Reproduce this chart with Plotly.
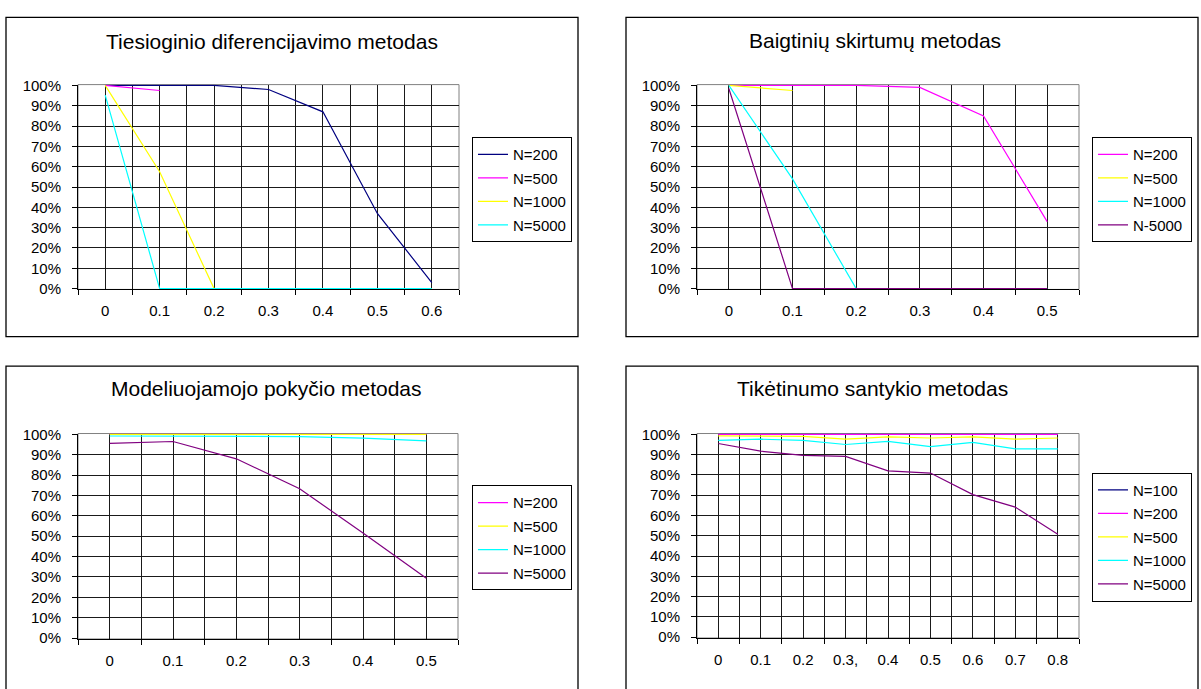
import plotly.graph_objects as go

W, H = 1201, 689
FONT = "Liberation Sans, Arial, sans-serif"

NAVY, MAGENTA, YELLOW, CYAN, PURPLE = "#000080", "#FF00FF", "#FFFF00", "#00FFFF", "#800080"

# ---- Chart 1: Tiesioginio diferencijavimo metodas
title1 = "Tiesioginio diferencijavimo metodas"
cats1 = ["0", "0.1", "0.2", "0.3", "0.4", "0.5", "0.6"]
names1 = ["N=200", "N=500", "N=1000", "N=5000"]
vals1 = [
    [1.00, 1.00, 1.00, 0.98, 0.87, 0.37, 0.03],
    [1.00, 0.975],
    [1.00, 0.575, 0, 0, 0, 0, 0],
    [0.952, 0, 0, 0, 0, 0, 0],
]
colors1 = [NAVY, MAGENTA, YELLOW, CYAN]

# ---- Chart 2: Baigtinių skirtumų metodas
title2 = "Baigtinių skirtumų metodas"
cats2 = ["0", "0.1", "0.2", "0.3", "0.4", "0.5"]
names2 = ["N=200", "N=500", "N=1000", "N-5000"]
vals2 = [
    [1.00, 1.00, 1.00, 0.99, 0.85, 0.33],
    [1.00, 0.975],
    [1.00, 0.54, 0, 0, 0, 0],
    [0.985, 0, 0, 0, 0, 0],
]
colors2 = [MAGENTA, YELLOW, CYAN, PURPLE]

# ---- Chart 3: Modeliuojamojo pokyčio metodas
title3 = "Modeliuojamojo pokyčio metodas"
cats3 = ["0", "0.1", "0.2", "0.3", "0.4", "0.5"]
names3 = ["N=200", "N=500", "N=1000", "N=5000"]
vals3 = [
    [1.00, 1.00, 1.00, 1.00, 1.00, 1.00],
    [1.00, 1.00, 1.00, 1.00, 1.00, 1.00],
    [0.992, 0.99, 0.99, 0.989, 0.981, 0.968],
    [0.956, 0.965, 0.88, 0.733, 0.516, 0.294],
]
colors3 = [MAGENTA, YELLOW, CYAN, PURPLE]

# ---- Chart 4: Tikėtinumo santykio metodas
title4 = "Tikėtinumo santykio metodas"
cats4 = ["0", "0.1", "0.2", "0.3,", "0.4", "0.5", "0.6", "0.7", "0.8"]
names4 = ["N=100", "N=200", "N=500", "N=1000", "N=5000"]
vals4 = [
    [1.00, 1.00, 1.00, 1.00, 1.00, 1.00, 1.00, 1.00, 1.00],
    [1.00, 1.00, 1.00, 1.00, 1.00, 1.00, 1.00, 1.00, 1.00],
    [0.992, 0.99, 0.99, 0.976, 0.988, 0.982, 0.988, 0.976, 0.982],
    [0.97, 0.976, 0.97, 0.95, 0.965, 0.939, 0.96, 0.928, 0.928],
    [0.955, 0.917, 0.896, 0.891, 0.82, 0.809, 0.703, 0.641, 0.507],
]
colors4 = [NAVY, MAGENTA, YELLOW, CYAN, PURPLE]

yticks = [i / 10 for i in range(11)]

# layout geometry (pixels)
charts = [
    dict(title=title1, cats=cats1, names=names1, vals=vals1, colors=colors1,
         plot=(78, 459, 78.3, 287.7), box=(6, 9.5, 578, 336), tpos=(272, 34), leg=(472, 132), gap=1),
    dict(title=title2, cats=cats2, names=names2, vals=vals2, colors=colors2,
         plot=(697, 1079, 78.3, 287.7), box=(626, 9.5, 1198, 336), tpos=(875, 33), leg=(1092, 132), gap=1),
    dict(title=title3, cats=cats3, names=names3, vals=vals3, colors=colors3,
         plot=(78, 458, 435, 645), box=(6, 366, 578, 720), tpos=(266, 389), leg=(472, 488), gap=1),
    dict(title=title4, cats=cats4, names=names4, vals=vals4, colors=colors4,
         plot=(697, 1079, 435, 644), box=(626, 366, 1198, 720), tpos=(872, 389), leg=(1092, 475), gap=1),
]

GRID = "#1a1a1a"
fig = go.Figure()
layout = dict(
    width=W, height=H, margin=dict(l=0, r=0, t=0, b=0),
    paper_bgcolor="white", plot_bgcolor="white",
    font=dict(family=FONT, size=15, color="black"),
    shapes=[], annotations=[],
)

for k, c in enumerate(charts, start=1):
    xa = "x" if k == 1 else f"x{k}"
    ya = "y" if k == 1 else f"y{k}"
    lg = "legend" if k == 1 else f"legend{k}"
    idx = list(range(len(c["cats"])))
    for j, (nm, v, col) in enumerate(zip(c["names"], c["vals"], c["colors"])):
        fig.add_trace(go.Scatter(
            x=idx[:len(v)], y=v, name=nm, mode="lines",
            line=dict(color=col, width=1.2),
            xaxis=xa, yaxis=ya, legend=lg, legendgroup=f"g{k}_{j}",
        ))
    x0, x1, y0, y1 = c["plot"]
    n = len(c["cats"])
    layout["xaxis" if k == 1 else f"xaxis{k}"] = dict(
        domain=[x0 / W, x1 / W], anchor=ya, range=[-0.5, n - 0.5],
        tickmode="array", tickvals=idx, ticktext=c["cats"], ticks="",
        showgrid=True, gridcolor=GRID, gridwidth=1, zeroline=False,
        showline=True, linecolor="black", linewidth=1,
        ticklabelstandoff=8, tickfont=dict(size=15),
        minor=dict(tickmode="array", tickvals=[i - 0.5 for i in range(n + 1)],
                   ticks="outside", ticklen=5, tickcolor="black", tickwidth=1,
                   showgrid=True, gridcolor=GRID, gridwidth=1),
        fixedrange=True,
    )
    layout["yaxis" if k == 1 else f"yaxis{k}"] = dict(
        domain=[1 - y1 / H, 1 - y0 / H], anchor=xa, range=[-0.004, 1.004],
        tickmode="array", tickvals=yticks, tickformat=".0%",
        ticks="outside", ticklen=5, tickcolor="black",
        showgrid=True, gridcolor=GRID, gridwidth=1, zeroline=False,
        showline=True, linecolor="black", linewidth=1,
        ticklabelstandoff=8, tickfont=dict(size=15), fixedrange=True,
    )
    layout["shapes"].append(dict(
        type="rect", xref=f"{xa} domain", yref=f"{ya} domain",
        x0=0, x1=1, y0=0, y1=1, line=dict(color="#808080", width=1), layer="below"))
    bx0, by0, bx1, by1 = c["box"]
    layout["shapes"].append(dict(
        type="rect", xref="paper", yref="paper",
        x0=bx0 / W, x1=bx1 / W, y0=1 - by1 / H, y1=1 - by0 / H,
        line=dict(color="black", width=1.3), layer="below"))
    tx, ty = c["tpos"]
    layout["annotations"].append(dict(
        text=c["title"], xref="paper", yref="paper", x=tx / W, y=1 - ty / H,
        xanchor="center", yanchor="middle", showarrow=False,
        font=dict(family=FONT, size=21, color="black")))
    lx, ly = c["leg"]
    layout[lg] = dict(
        x=lx / W, y=1 - ly / H, xanchor="left", yanchor="top",
        bordercolor="black", borderwidth=1, bgcolor="white",
        font=dict(family=FONT, size=15, color="black"),
        tracegroupgap=c["gap"], traceorder="grouped", itemclick=False, itemdoubleclick=False,
    )

fig.update_layout(**layout)
fig.write_html(
    "out.html",
    config={"displayModeBar": False},
    post_script="document.body.style.margin='0';document.body.style.overflow='hidden';",
)
